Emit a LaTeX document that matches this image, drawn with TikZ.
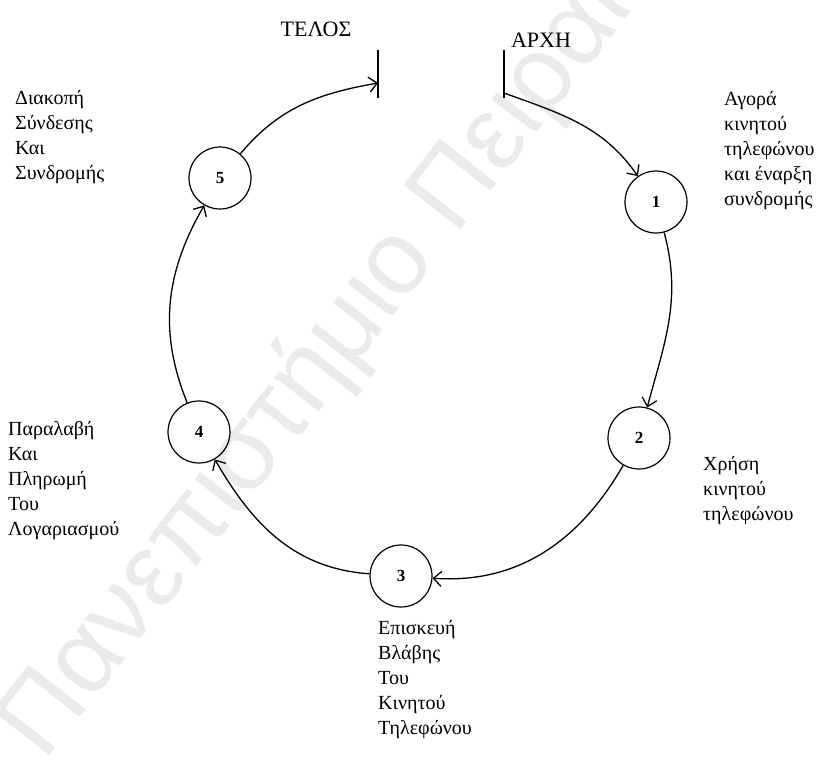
\documentclass[tikz,border=0pt]{standalone}
\usepackage{fontspec}
\setmainfont{Liberation Serif}
\newfontfamily\wmfont{Liberation Sans}
\usetikzlibrary{arrows.meta}
\begin{document}
\begin{tikzpicture}[x=1pt,y=1pt,
  stage/.style={circle,draw,line width=1.2pt,minimum size=62pt,inner sep=0pt,
    font=\fontsize{17}{20}\selectfont\bfseries},
  lbl/.style={align=left,anchor=north west,inner sep=0pt,
    font=\fontsize{20}{25}\selectfont},
  ttl/.style={inner sep=0pt,font=\fontsize{22}{24}\selectfont},
  conn/.style={line width=1.3pt,-{Straight Barb[length=8pt,width=15pt,line width=1.3pt]}},
  tickline/.style={line width=1.3pt}]
\useasboundingbox (0,0) rectangle (827,-763);
% watermark
\begin{scope}
\clip (0,0) rectangle (827,-763);
\node[rotate=52,anchor=west,inner sep=0pt,text=black!8,
  font=\wmfont\fontsize{105}{105}\selectfont] (wm) at (22,-745) {Πανεπιστήμιο Πειραιώς};
\end{scope}
% titles
\node[ttl] (telos) at (316,-29) {ΤΕΛΟΣ};
\node[ttl] (arxh) at (541,-40) {ΑΡΧΗ};
% ticks
\coordinate (tT) at (378,-50);
\coordinate (tB) at (378,-98);
\coordinate (tE) at (378,-83);
\coordinate (aT) at (504,-50);
\coordinate (aB) at (504,-98);
\coordinate (aS) at (504,-93);
\draw[tickline] (tT) -- (tB);
\draw[tickline] (aT) -- (aB);
% stages
\node[stage] (n1) at (656,-202) {1};
\node[stage] (n2) at (639,-438) {2};
\node[stage] (n3) at (401,-576) {3};
\node[stage] (n4) at (199,-432) {4};
\node[stage] (n5) at (220,-178) {5};
% connectors
\draw[conn] (aS) to[out=-20,in=125] (n1);
\draw[conn] (n1) to[out=-75,in=75] (n2);
\draw[conn] (n2) to[out=240,in=-4] (n3);
\draw[conn] (n3) to[out=176,in=-60] (n4);
\draw[conn] (n4) to[out=112,in=240] (n5);
\draw[conn] (n5) to[out=50,in=190] (tE);
% labels
\node[lbl] (l1) at (724,-91) {Αγορά\\κινητού\\τηλεφώνου\\και έναρξη\\συνδρομής};
\node[lbl] (l2) at (703,-456) {Χρήση\\κινητού\\τηλεφώνου};
\node[lbl] (l3) at (378,-620) {Επισκευή\\Βλάβης\\Του\\Κινητού\\Τηλεφώνου};
\node[lbl] (l4) at (8,-421) {Παραλαβή\\Και\\Πληρωμή\\Του\\Λογαριασμού};
\node[lbl] (l5) at (15,-90) {Διακοπή\\Σύνδεσης\\Και\\Συνδρομής};
\end{tikzpicture}
\end{document}
